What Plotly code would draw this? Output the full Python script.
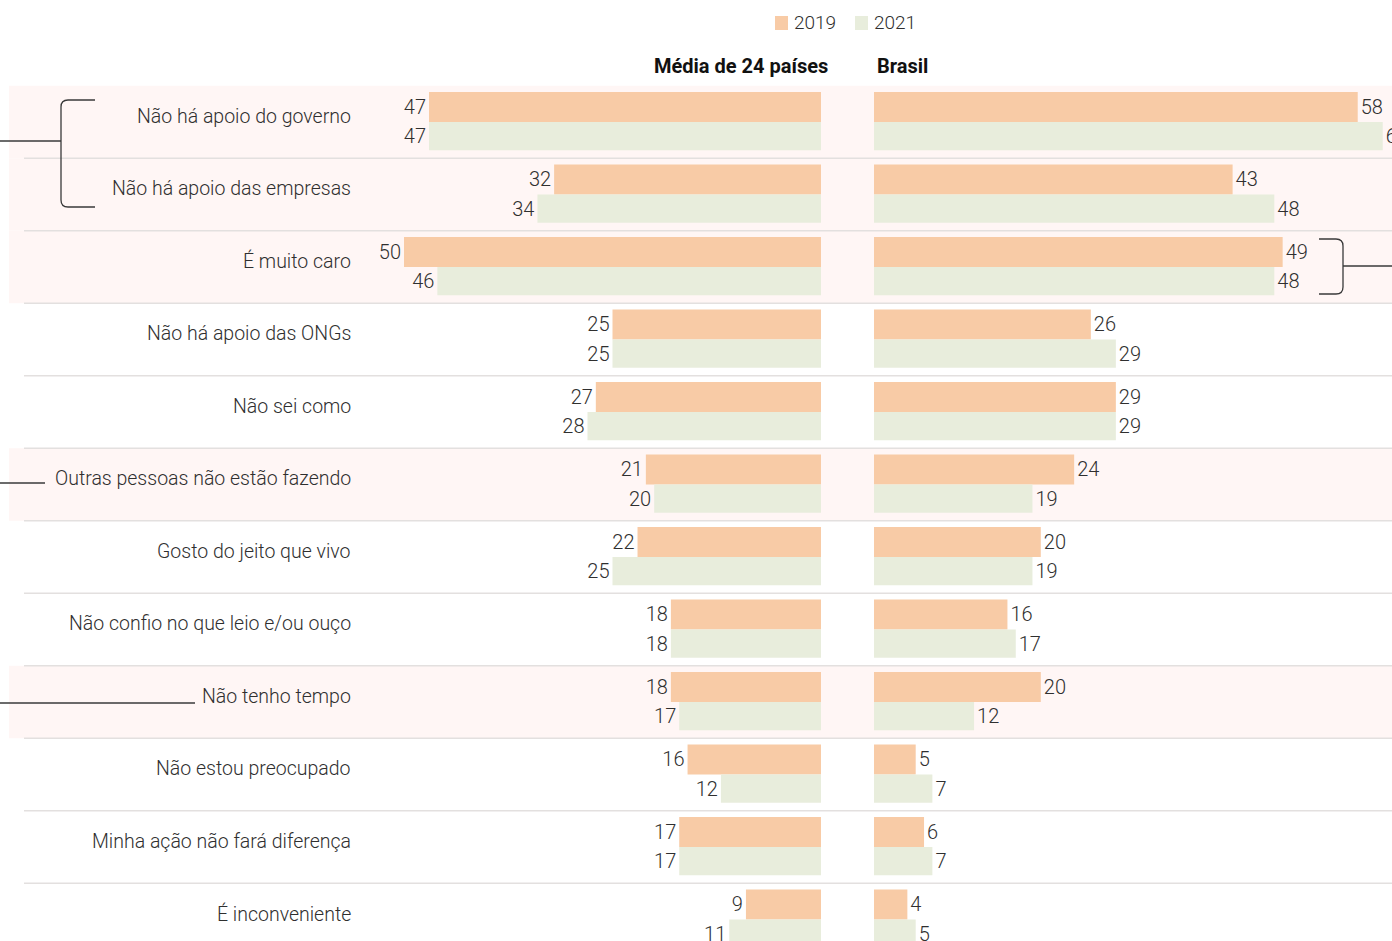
import plotly.graph_objects as go

# Motivos para não agir, % de respostas
categorias = [
    "Não há apoio do governo",
    "Não há apoio das empresas",
    "É muito caro",
    "Não há apoio das ONGs",
    "Não sei como",
    "Outras pessoas não estão fazendo",
    "Gosto do jeito que vivo",
    "Não confio no que leio e/ou ouço",
    "Não tenho tempo",
    "Não estou preocupado",
    "Minha ação não fará diferença",
    "É inconveniente",
]
media_2019 = [47, 32, 50, 25, 27, 21, 22, 18, 18, 16, 17, 9]
media_2021 = [47, 34, 46, 25, 28, 20, 25, 18, 17, 12, 17, 11]
brasil_2019 = [58, 43, 49, 26, 29, 24, 20, 16, 20, 5, 6, 4]
brasil_2021 = [61, 48, 48, 29, 29, 19, 19, 17, 12, 7, 7, 5]
anos = ["2019", "2021"]
titulos = ["Média de 24 países", "Brasil"]
destaques = [0, 1, 2, 5, 8]

W, H = 1392, 941
FONT = "Roboto, Lato, sans-serif"
C2019 = "#F8CBA6"
C2021 = "#E8EDDC"
TXT = "#2f2f2f"
BG_HI = "#FFF6F5"
SEP = "#E3E0DF"

PX_UNIT = 8.34          # pixels per percentage point
ROW_PX = 72.5           # row height in pixels
ROW0_PX = 122.0         # pixel position of first row centre
LEFT_ZERO = 821.0
RIGHT_ZERO = 874.0

ys = list(range(len(categorias)))
y_top = -ROW0_PX / ROW_PX
y_bot = (H - ROW0_PX) / ROW_PX


def px(x):
    return x / W


def py(y):
    return 1 - y / H


fig = go.Figure()


def add_bars(vals, color, offset, width, xaxis):
    fig.add_trace(go.Bar(
        y=ys, x=vals, orientation="h", xaxis=xaxis, yaxis="y",
        marker=dict(color=color, line=dict(width=0)),
        offset=offset, width=width,
        text=[str(v) for v in vals], textposition="outside",
        textfont=dict(family=FONT, size=20, color=TXT, weight=300),
        constraintext="none", cliponaxis=False, textangle=0,
        showlegend=False, hoverinfo="x",
    ))


add_bars(media_2019, C2019, -0.414, 0.414, "x")
add_bars(media_2021, C2021, 0.0, 0.39, "x")
add_bars(brasil_2019, C2019, -0.414, 0.414, "x2")
add_bars(brasil_2021, C2021, 0.0, 0.39, "x2")

shapes = []
# highlighted rows
for i in destaques:
    shapes.append(dict(type="rect", xref="paper", yref="y", x0=px(9), x1=1,
                       y0=i - 0.5, y1=i + 0.5, fillcolor=BG_HI,
                       line=dict(width=0), layer="below"))
# row separators
for i in range(len(categorias) - 1):
    shapes.append(dict(type="line", xref="paper", yref="y", x0=px(24), x1=1,
                       y0=i + 0.5, y1=i + 0.5,
                       line=dict(color=SEP, width=1.5), layer="below"))


def bracket_left(xv, xa, y0, y1, r=7):
    return (f"M {px(xa)} {py(y0)} L {px(xv + r)} {py(y0)} "
            f"Q {px(xv)} {py(y0)} {px(xv)} {py(y0 + r)} "
            f"L {px(xv)} {py(y1 - r)} "
            f"Q {px(xv)} {py(y1)} {px(xv + r)} {py(y1)} L {px(xa)} {py(y1)}")


def bracket_right(xv, xa, y0, y1, r=7):
    return (f"M {px(xa)} {py(y0)} L {px(xv - r)} {py(y0)} "
            f"Q {px(xv)} {py(y0)} {px(xv)} {py(y0 + r)} "
            f"L {px(xv)} {py(y1 - r)} "
            f"Q {px(xv)} {py(y1)} {px(xv - r)} {py(y1)} L {px(xa)} {py(y1)}")


LINE = dict(color="#3a3a3a", width=1.3)
shapes.append(dict(type="path", xref="paper", yref="paper",
                   path=bracket_left(61, 95, 100, 207), line=LINE))
shapes.append(dict(type="line", xref="paper", yref="paper",
                   x0=0, x1=px(61), y0=py(141), y1=py(141), line=LINE))
shapes.append(dict(type="path", xref="paper", yref="paper",
                   path=bracket_right(1343, 1319, 239, 294), line=LINE))
shapes.append(dict(type="line", xref="paper", yref="paper",
                   x0=px(1343), x1=1, y0=py(266), y1=py(266), line=LINE))
shapes.append(dict(type="line", xref="paper", yref="paper",
                   x0=0, x1=px(45), y0=py(483), y1=py(483), line=LINE))
shapes.append(dict(type="line", xref="paper", yref="paper",
                   x0=0, x1=px(195), y0=py(703), y1=py(703), line=LINE))

# legend swatches
for x0, c in [(775, C2019), (855, C2021)]:
    shapes.append(dict(type="rect", xref="paper", yref="paper",
                       x0=px(x0), x1=px(x0 + 13), y0=py(16), y1=py(30),
                       fillcolor=c, line=dict(width=0)))

annotations = []
for i, cat in enumerate(categorias):
    annotations.append(dict(x=px(353), y=i, xref="paper", yref="y",
                            text=cat, showarrow=False, xanchor="right",
                            yanchor="middle", yshift=6,
                            font=dict(family=FONT, size=19.5, color=TXT,
                                      weight=300)))
for x0, label in [(792, anos[0]), (872, anos[1])]:
    annotations.append(dict(x=px(x0), y=py(23), xref="paper", yref="paper",
                            text=label, showarrow=False, xanchor="left",
                            yanchor="middle",
                            font=dict(family=FONT, size=19, color=TXT,
                                      weight=300)))
annotations.append(dict(x=px(830), y=py(66), xref="paper", yref="paper",
                        text=f"<b>{titulos[0]}</b>", showarrow=False,
                        xanchor="right", yanchor="middle",
                        font=dict(family=FONT, size=20, color="#111111")))
annotations.append(dict(x=px(875), y=py(66), xref="paper", yref="paper",
                        text=f"<b>{titulos[1]}</b>", showarrow=False,
                        xanchor="left", yanchor="middle",
                        font=dict(family=FONT, size=20, color="#111111")))

fig.update_layout(
    width=W, height=H,
    margin=dict(l=0, r=0, t=0, b=0),
    paper_bgcolor="white", plot_bgcolor="rgba(0,0,0,0)",
    barmode="overlay",
    shapes=shapes, annotations=annotations,
    xaxis=dict(domain=[0, px(LEFT_ZERO)], range=[LEFT_ZERO / PX_UNIT, 0],
               visible=False, fixedrange=True),
    xaxis2=dict(domain=[px(RIGHT_ZERO), 1],
                range=[0, (W - RIGHT_ZERO) / PX_UNIT],
                visible=False, anchor="y", fixedrange=True),
    yaxis=dict(range=[y_bot, y_top], visible=False, fixedrange=True),
)

fig.write_html("out.html")
